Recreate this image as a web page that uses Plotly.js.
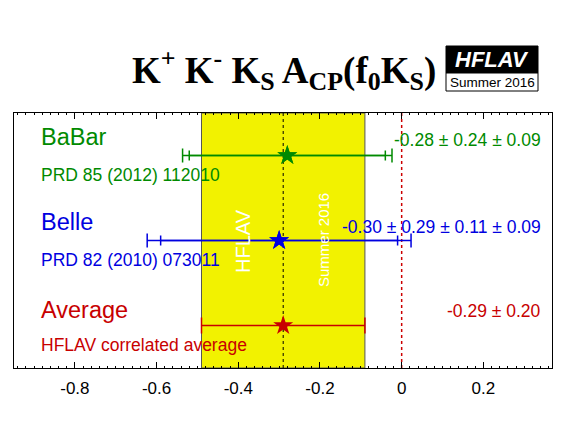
<!DOCTYPE html>
<html>
<head>
<meta charset="utf-8">
<script src="https://cdn.plot.ly/plotly-3.0.1.min.js"></script>
<style>html,body{margin:0;padding:0;background:#fff;}#chart{width:567px;height:425px;}</style>
</head>
<body>
<div id="chart"></div>
<script>
// ---- data ----
const experiments = ["BaBar", "Belle", "Average"];
const references = ["PRD 85 (2012) 112010", "PRD 82 (2010) 073011", "HFLAV correlated average"];
const centralValues = [-0.28, -0.30, -0.29];
const statErrors = [0.24, 0.29, 0.20];
const systErrors = [[0.09], [0.11, 0.09], []];
const resultLabels = ["-0.28 \u00b1 0.24 \u00b1 0.09", "-0.30 \u00b1 0.29 \u00b1 0.11 \u00b1 0.09", "-0.29 \u00b1 0.20"];
const rowColors = ["#008a00", "#0000e0", "#c80000"];
const tickValues = [-0.8, -0.6, -0.4, -0.2, 0, 0.2];
const tickLabels = ["-0.8", "-0.6", "-0.4", "-0.2", "0", "0.2"];
const averageValue = -0.29;
const averageError = 0.20;

// ---- layout helpers ----
const L = 14, R = 552, T = 113, B = 368;
const px = x => (x - L) / (R - L);
const py = y => (B - y) / (B - T);
const rowY = i => experiments.length - i - 0.5;

const traces = [];
experiments.forEach((name, i) => {
  const total = Math.sqrt(statErrors[i] ** 2 + systErrors[i].reduce((s, e) => s + e * e, 0));
  const isAvg = systErrors[i].length === 0;
  traces.push({
    x: [centralValues[i]], y: [rowY(i)], type: "scatter", mode: "markers",
    marker: {symbol: "star", size: 15, color: rowColors[i]},
    error_x: {type: "data", array: [total], symmetric: true, color: rowColors[i], thickness: 1.5, width: isAvg ? 8 : 7},
    hoverinfo: "skip", showlegend: false
  });
  if (!isAvg) {
    traces.push({
      x: [centralValues[i]], y: [rowY(i)], type: "scatter", mode: "markers",
      marker: {symbol: "star", size: 15, color: rowColors[i]},
      error_x: {type: "data", array: [statErrors[i]], symmetric: true, color: rowColors[i], thickness: 1.5, width: 5},
      hoverinfo: "skip", showlegend: false
    });
  }
});

const annotations = [];
const nameY = [137, 222, 310];
const refY = [175, 260, 345];
const resY = [140, 227, 311];
experiments.forEach((name, i) => {
  annotations.push({xref: "paper", yref: "paper", x: px(39), y: py(nameY[i]), xanchor: "left", yanchor: "middle",
    text: name, showarrow: false, font: {family: "Liberation Sans, Arial", size: 23.5, color: rowColors[i]}});
  annotations.push({xref: "paper", yref: "paper", x: px(39), y: py(refY[i]), xanchor: "left", yanchor: "middle",
    text: references[i], showarrow: false, font: {family: "Liberation Sans, Arial", size: 17.5, color: rowColors[i]}});
  annotations.push({xref: "paper", yref: "paper", x: px(543), y: py(resY[i]), xanchor: "right", yanchor: "middle",
    text: resultLabels[i], showarrow: false, font: {family: "Liberation Sans, Arial", size: 17.5, color: rowColors[i]}});
});
annotations.push({xref: "paper", yref: "paper", x: px(243), y: py(241), textangle: -90, xanchor: "center", yanchor: "middle",
  text: "HFLAV", showarrow: false, font: {family: "Liberation Sans, Arial", size: 20, color: "#ffffff"}});
annotations.push({xref: "paper", yref: "paper", x: px(323), y: py(240), textangle: -90, xanchor: "center", yanchor: "middle",
  text: "Summer 2016", showarrow: false, font: {family: "Liberation Sans, Arial", size: 15, color: "#ffffff"}});
annotations.push({xref: "paper", yref: "paper", x: px(284), y: py(70), xanchor: "center", yanchor: "middle",
  text: "<b>K<sup>+</sup> K<sup>-</sup> K<sub>S</sub> A<sub>CP</sub>(f<sub>0</sub>K<sub>S</sub>)</b>", showarrow: false,
  font: {family: "Liberation Serif, Times New Roman", size: 37, color: "#000"}});
annotations.push({xref: "paper", yref: "paper", x: px(492), y: py(59), xanchor: "center", yanchor: "middle",
  text: "<b><i>HFLAV</i></b>", showarrow: false, font: {family: "Liberation Sans, Arial", size: 22, color: "#ffffff"}});
annotations.push({xref: "paper", yref: "paper", x: px(492), y: py(82), xanchor: "center", yanchor: "middle",
  text: "Summer 2016", showarrow: false, font: {family: "Liberation Sans, Arial", size: 13.5, color: "#000"}});

const shapes = [
  {type: "rect", xref: "x", yref: "paper", x0: averageValue - averageError, x1: averageValue + averageError, y0: 0, y1: 1,
    fillcolor: "#f2f200", line: {color: "#555", width: 1}, layer: "below"},
  {type: "line", xref: "x", yref: "paper", x0: averageValue, x1: averageValue, y0: 0, y1: 1,
    line: {color: "#000", width: 1, dash: "dot"}, layer: "below"},
  {type: "line", xref: "x", yref: "paper", x0: 0, x1: 0, y0: 0, y1: 1,
    line: {color: "#cc0000", width: 1.5, dash: "3px,3px"}, layer: "below"},
  {type: "rect", xref: "paper", yref: "paper", x0: px(446), x1: px(538), y0: py(73), y1: py(46),
    fillcolor: "#000", line: {color: "#000", width: 1}},
  {type: "rect", xref: "paper", yref: "paper", x0: px(446), x1: px(538), y0: py(91), y1: py(73),
    fillcolor: "#fff", line: {color: "#000", width: 1}}
];

const layout = {
  width: 567, height: 425,
  margin: {l: L, r: 567 - R, t: T, b: 425 - B, pad: 0},
  paper_bgcolor: "#fff", plot_bgcolor: "#fff",
  showlegend: false,
  xaxis: {
    range: [-0.949, 0.368], tickvals: tickValues, ticktext: tickLabels,
    ticks: "inside", ticklen: 6, tickcolor: "#000", tickwidth: 1,
    minor: {ticks: "inside", ticklen: 2, dtick: 0.02, tickcolor: "#000", showgrid: false},
    showline: true, linecolor: "#000", linewidth: 1, mirror: "allticks",
    showgrid: false, zeroline: false, ticklabelstandoff: 5,
    tickfont: {family: "Liberation Sans, Arial", size: 17, color: "#000"}
  },
  yaxis: {
    range: [0, 3], showticklabels: false, ticks: "", showgrid: false, zeroline: false,
    showline: true, linecolor: "#000", linewidth: 1, mirror: true, fixedrange: true
  },
  shapes: shapes,
  annotations: annotations
};

Plotly.newPlot("chart", traces, layout, {displayModeBar: false, staticPlot: true});
</script>
</body>
</html>
